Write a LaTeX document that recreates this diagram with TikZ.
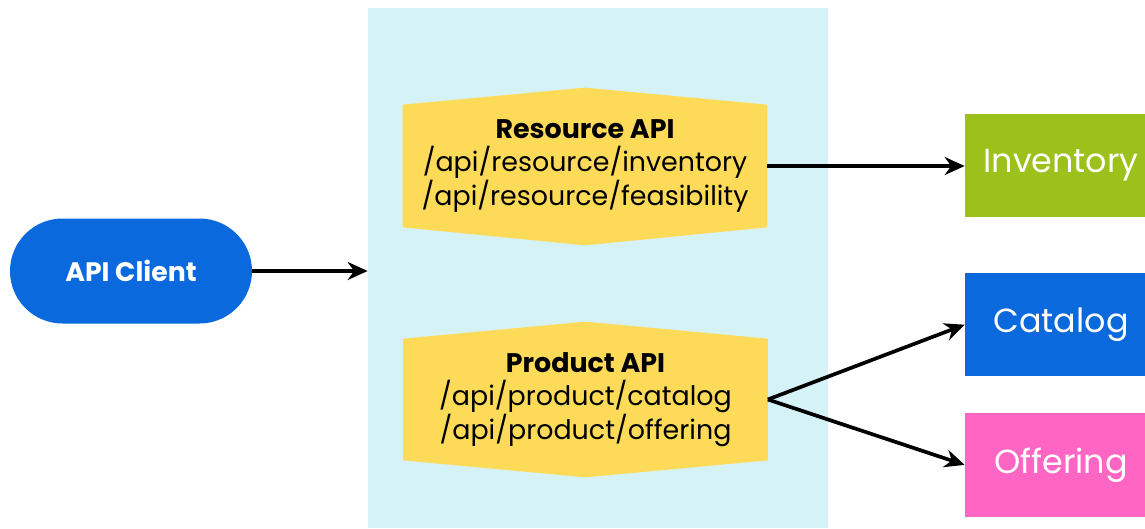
\documentclass[tikz,border=0pt]{standalone}
\usepackage{fontspec}
\setmainfont{Poppins}
\usepackage{tikz}
\usetikzlibrary{arrows.meta, positioning}
\definecolor{gwbg}{HTML}{D5F3F7}
\definecolor{apiyellow}{HTML}{FDDB58}
\definecolor{clientblue}{HTML}{0B69DE}
\definecolor{invgreen}{HTML}{9CC11B}
\definecolor{offerpink}{HTML}{FF66C4}
\tikzstyle{apibox} = [rectangle, minimum width=7.28cm, minimum height=2.44cm,
  align=center, font=\fontsize{15.3}{19}\selectfont, inner sep=0pt]
\tikzstyle{target} = [rectangle, minimum width=3.84cm, minimum height=2.07cm,
  text=white, font=\fontsize{19}{22}\selectfont]
\tikzstyle{arrow} = [line width=2.1pt, -{Stealth[length=4mm, width=3.6mm]}]

\begin{document}
\begin{tikzpicture}
    \clip (0,0) rectangle (22.9,-10.56);
    \fill[white] (0,0) rectangle (22.9,-10.56);
    \node[fill=gwbg, minimum width=9.2cm, minimum height=10.4cm, inner sep=0pt] (gw) at (11.96,-5.36) {};
    \node[rectangle, rounded corners=1.05cm, fill=clientblue, minimum width=4.84cm, minimum height=2.1cm,
      text=white, font=\fontsize{15.2}{17}\selectfont\bfseries] (client) at (2.62,-5.42) {API Client};
    % api hexagons
    \node[apibox] (res) at (11.7,-3.32) {};
    \fill[apiyellow] (res.north west) -- ([yshift=0.34cm]res.north) -- (res.north east)
      -- (res.south east) -- ([yshift=-0.36cm]res.south) -- (res.south west) -- cycle;
    \node[apibox] at (res) {\textbf{Resource API}\\/api/resource/inventory\\/api/resource/feasibility};
    \node[apibox, minimum height=2.42cm] (prod) at (11.71,-7.99) {};
    \fill[apiyellow] (prod.north west) -- ([yshift=0.34cm]prod.north) -- (prod.north east)
      -- (prod.south east) -- ([yshift=-0.34cm]prod.south) -- (prod.south west) -- cycle;
    \node[apibox, minimum height=2.42cm] at (prod) {\textbf{Product API}\\/api/product/catalog\\/api/product/offering};
    % targets
    \node[target, fill=invgreen] (inv) at (21.22,-3.31) {Inventory};
    \node[target, fill=clientblue, below=1.1cm of inv] (cat) {Catalog};
    \node[target, fill=offerpink, below=0.72cm of cat] (off) {Offering};
    \draw[arrow] (client.east) -- (client.east -| gw.west);
    \draw[arrow] (res.east) -- (res.east -| inv.west);
    \draw[arrow] (prod.east) -- (cat.west);
    \draw[arrow] (prod.east) -- (off.west);
  \end{tikzpicture}
\end{document}
